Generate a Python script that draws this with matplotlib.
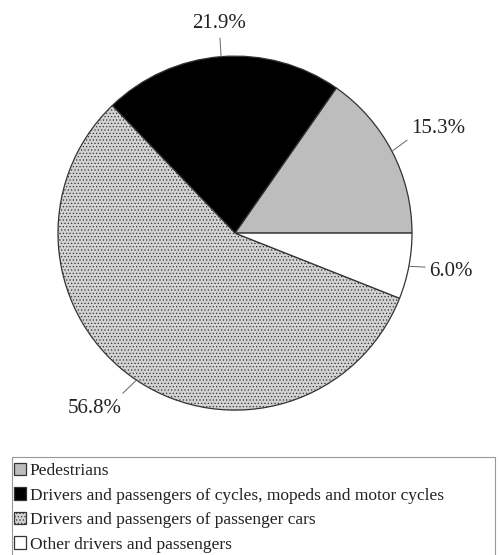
import math

import matplotlib
matplotlib.use("Agg")
import matplotlib.pyplot as plt
from matplotlib.patches import Rectangle

categories = [
    "Pedestrians",
    "Drivers and passengers of cycles, mopeds and motor cycles",
    "Drivers and passengers of passenger cars",
    "Other drivers and passengers",
]
shares = [15.3, 21.9, 56.8, 6.0]
labels = ["15.3%", "21.9%", "56.8%", "6.0%"]

colors = ["#bdbdbd", "#000000", "#d2d2d2", "#ffffff"]
hatches = [None, None, ".....", None]
# label text centre and end of leader line (data units, pie radius 1)
label_pos = [(1.147, 0.593), (-0.09, 1.186), (-0.791, -0.989), (1.220, -0.215)]
line_end = [(0.972, 0.525), (-0.085, 1.10), (-0.633, -0.904), (1.073, -0.192)]

plt.rcParams["font.family"] = ["Liberation Serif", "DejaVu Serif"]
plt.rcParams["hatch.color"] = "#b4b4b4"
plt.rcParams["hatch.linewidth"] = 0.5

fig = plt.figure(figsize=(5.0, 5.55), dpi=100)
ax = fig.add_axes([0.116, 0.261, 0.708, 0.638])

wedges, _ = ax.pie(shares, colors=colors, startangle=0, counterclock=True,
                   radius=1.0,
                   wedgeprops=dict(edgecolor="#333333", linewidth=0.9))
for w, h in zip(wedges, hatches):
    if h:
        w.set_hatch(h)

for w, lab, pos, end in zip(wedges, labels, label_pos, line_end):
    mid = math.radians((w.theta1 + w.theta2) / 2.0)
    x0, y0 = math.cos(mid), math.sin(mid)
    ax.plot([x0, end[0]], [y0, end[1]], color="#666666", lw=0.7,
            clip_on=False)
    ax.text(pos[0], pos[1], lab, ha="center", va="center",
            fontsize=15, color="#222222")

ax.set_xlim(-1, 1)
ax.set_ylim(-1, 1)
ax.set_aspect("equal")
ax.axis("off")

# legend box, runs off the bottom of the picture
fig.patches.append(Rectangle((12 / 500, -0.05), (495 - 12) / 500, 1 - 457 / 555 + 0.05,
                             transform=fig.transFigure, facecolor="white",
                             edgecolor="#999999", linewidth=0.8, zorder=0))
fig.legend(wedges, categories, loc="upper left",
           bbox_to_anchor=(14 / 500, 1 - 463 / 555), frameon=False,
           fontsize=12.5, handlelength=0.7, handleheight=0.7,
           handletextpad=0.2, labelspacing=0.48, borderpad=0.0,
           borderaxespad=0.0, labelcolor="#222222")

fig.savefig("out.png", dpi=100)
